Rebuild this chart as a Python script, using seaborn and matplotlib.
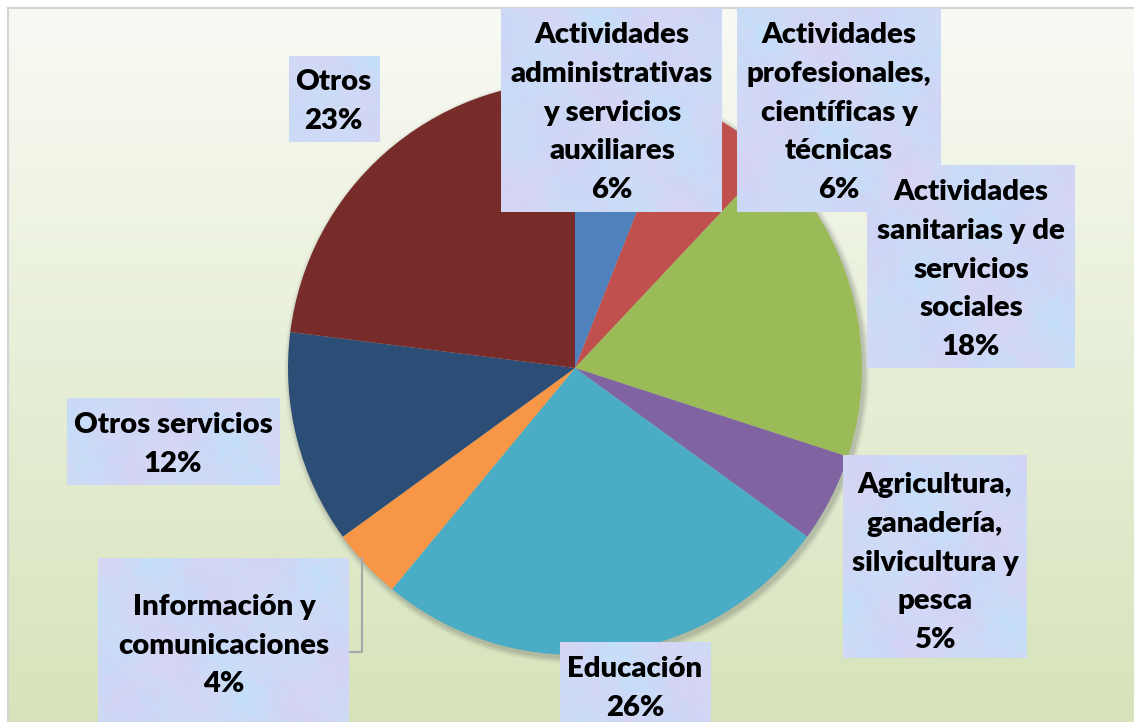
import numpy as np
import matplotlib
matplotlib.use("Agg")
import matplotlib.pyplot as plt
import seaborn as sns
from matplotlib.patches import Rectangle, Circle

sns.set_theme(style="white")
plt.rcParams['font.family'] = ['Lato', 'DejaVu Sans']

# ---- data ----
categories = [
    "Actividades\nadministrativas\ny servicios\nauxiliares",
    "Actividades\nprofesionales,\ncientíficas y\ntécnicas",
    "Actividades\nsanitarias y de\nservicios\nsociales",
    "Agricultura,\nganadería,\nsilvicultura y\npesca",
    "Educación",
    "Información y\ncomunicaciones",
    "Otros servicios",
    "Otros",
]
percentages = [6, 6, 18, 5, 26, 4, 12, 23]
colors = ["#4f81bd", "#c0504d", "#9bbb59", "#8064a2",
          "#4bacc6", "#f79646", "#2c4d75", "#772c2a"]

# ---- layout (pixels, y from top) ----
W, H = 1134, 722
pie_center = (575, 368)
pie_radius = 287
boxes = [  # x0, y0, x1, y1
    (501, 8, 722, 212),
    (737, 8, 941, 212),
    (867, 165, 1075, 368),
    (843, 455, 1027, 658),
    (560, 642, 711, 740),
    (98, 558, 349, 740),
    (67, 398, 280, 485),
    (289, 56, 380, 142),
]
text_centers = [
    (612, 110), (839, 110), (971, 267), (935, 560),
    (635, 686), (224, 643), (173, 442), (333, 99),
]
line_pitch = 38.8

fig = plt.figure(figsize=(W / 100, H / 100), dpi=100)
ax = fig.add_axes([0, 0, 1, 1])
ax.set_xlim(0, W)
ax.set_ylim(0, H)
ax.set_aspect('equal')
ax.axis('off')

def fy(y):
    return H - y

# background gradient
top = np.array([248, 250, 244]) / 255
bot = np.array([214, 227, 186]) / 255
t = np.linspace(0, 1, 256)[:, None]
grad = (top[None, :] * (1 - t) + bot[None, :] * t)[:, None, :]
grad = np.repeat(grad, 2, axis=1)
ax.imshow(grad, extent=(8, W + 10, fy(H + 10), fy(8)), aspect='auto', zorder=0)
ax.add_patch(Rectangle((8, fy(H + 10)), W + 10, H + 2, fill=False,
                       edgecolor="#d4d4d4", lw=1.5, zorder=0.5))
ax.add_patch(Rectangle((0, 0), W, H, facecolor="white", edgecolor="none", zorder=-1))

# soft shadow behind the pie
for k, a in zip(range(6, 0, -1), [0.03, 0.04, 0.05, 0.06, 0.07, 0.08]):
    ax.add_patch(Circle((pie_center[0] + 2, fy(pie_center[1] + 3)), pie_radius + k,
                        facecolor="#555555", edgecolor="none", alpha=a, zorder=1))

ax.pie(percentages, colors=colors, startangle=90, counterclock=False,
       center=(pie_center[0], fy(pie_center[1])), radius=pie_radius,
       wedgeprops=dict(linewidth=0, zorder=2), frame=True)
ax.set_xlim(0, W)
ax.set_ylim(0, H)
ax.axis('off')

# leader line for Información
ax.plot([349, 362, 362], [fy(652), fy(652), fy(557)], color="#a6a6a6", lw=1.5,
        solid_capstyle='butt', zorder=3)

# mottled texture for label boxes (deterministic pattern)
yy, xx = np.mgrid[0:H + 20, 0:W].astype(float)
p1 = (np.sin(xx / 29.0 + yy / 37.0) + 0.8 * np.sin(xx / 13.0 - yy / 19.0 + 0.7)
      + 0.5 * np.sin((xx * 0.7 + yy) / 6.0) * np.sin((xx - yy * 0.6) / 5.0)
      + 0.4 * np.sin(xx / 3.1 + np.sin(yy / 4.3) * 2.0))
p2 = (np.sin(xx / 21.0 - yy / 33.0 + 1.3) + 0.6 * np.sin(yy / 11.0 + xx / 15.0)
      + 0.4 * np.sin(xx / 4.7) * np.sin(yy / 3.9))
p1 = (p1 - p1.min()) / (p1.max() - p1.min())
p2 = (p2 - p2.min()) / (p2.max() - p2.min())
c_blue = np.array([192, 226, 250]) / 255
c_lav = np.array([210, 210, 245]) / 255
c_pink = np.array([230, 212, 240]) / 255
tex = c_blue[None, None, :] * p1[..., None] + c_lav[None, None, :] * (1 - p1[..., None])
tex = tex * (1 - 0.4 * p2[..., None]) + c_pink[None, None, :] * 0.4 * p2[..., None]
tex = np.clip(tex, 0, 1)

fig.canvas.draw()
renderer = fig.canvas.get_renderer()
probe = ax.text(0, 0, "administrativas", fontsize=20, fontweight='heavy')
wpx = probe.get_window_extent(renderer).width
probe.remove()
fsize = 20 * 203 / wpx

for i, (lab, pct) in enumerate(zip(categories, percentages)):
    x0, y0, x1, y1 = boxes[i]
    rect = Rectangle((x0, fy(y1)), x1 - x0, y1 - y0, facecolor="none", edgecolor="none", zorder=4)
    ax.add_patch(rect)
    im = ax.imshow(tex, extent=(0, W, fy(H + 20), fy(0)), aspect='auto', zorder=4)
    im.set_clip_path(rect)
    lines = lab.split("\n") + [f"{pct}%"]
    cx, cy = text_centers[i]
    n = len(lines)
    for j, line in enumerate(lines):
        ly = cy + (j - (n - 1) / 2) * line_pitch
        ax.text(cx, fy(ly), line, ha='center', va='center_baseline', fontsize=fsize,
                fontweight='heavy', color="black", zorder=5)

fig.savefig("out.png", dpi=100)
